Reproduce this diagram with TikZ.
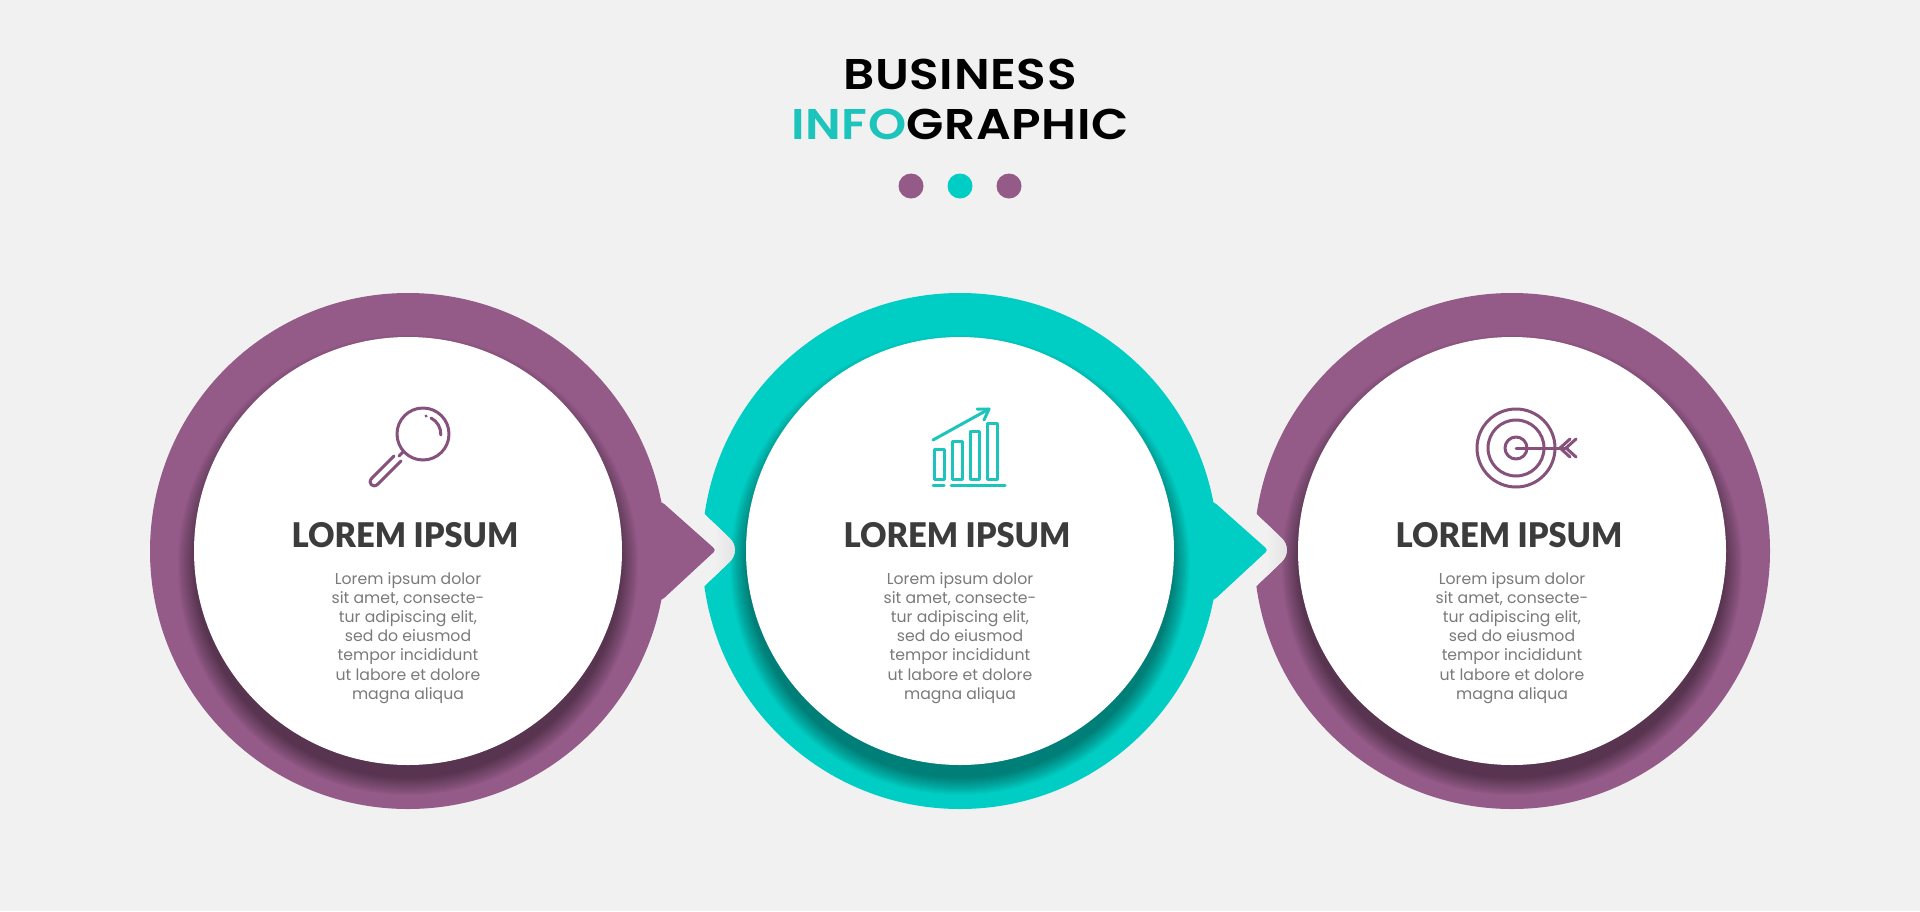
\documentclass[tikz,border=0pt]{standalone}
\usepackage{fontspec}
\setmainfont{Poppins}
\newfontfamily\headfont{Poppins}[BoldFont={Poppins SemiBold},BoldFeatures={FakeStretch=1.13,LetterSpace=1.5}]
\newfontfamily\cardfont{Lato}[BoldFont={Lato Black},BoldFeatures={FakeStretch=0.96}]
\definecolor{bgc}{HTML}{F1F1F1}
\definecolor{plum}{HTML}{945A88}
\definecolor{plumline}{HTML}{86517B}
\definecolor{teal}{HTML}{00CEC4}
\definecolor{tealline}{HTML}{1CC4BC}
\definecolor{darktext}{HTML}{3C3C3C}
\definecolor{greytext}{HTML}{7A7A7A}
\definecolor{notchc}{HTML}{E4E4E4}
\tikzset{
  x=1pt,y=-1pt,
  headline/.style={font=\headfont\bfseries\fontsize{43}{43}\selectfont,inner sep=0pt,anchor=base},
  cardtitle/.style={font=\cardfont\bfseries\fontsize{34}{34}\selectfont,text=darktext,inner sep=0pt,anchor=base},
  cardbody/.style={font=\fontsize{15.7}{19.2}\selectfont,text=greytext,inner sep=0pt,align=center,anchor=north},
  dotmark/.style={circle,inner sep=0pt,minimum size=25pt},
  icon/.style={line width=3pt,line cap=round,line join=round},
}
\newcommand{\ringcard}[5]{%
  % #1 centre x, #2 colour, #3 notch flag, #4 arrow flag, #5 name
  \begin{scope}[shift={(#1,551)}]
    \fill[#2] (0,0) circle[radius=258pt];
    \ifnum#4=1
      \fill[#2,rounded corners=3pt] (250,-49) -- (254,-49) -- (308,-1) -- (254,49) -- (250,49) -- cycle;
    \fi
    \begin{scope}
      \clip (0,0) circle[radius=258pt];
      \foreach \r in {213,214,...,230}{
        \fill[black,opacity=0.022] (0,14) circle[radius=\r pt];
      }
    \end{scope}
    \ifnum#3=1
      \begin{scope}
        \clip[rounded corners=17pt] (-268,-49) -- (-218,-1) -- (-268,47) -- cycle;
        \fill[bgc] (-270,-55) rectangle (-210,55);
        \shade[left color=bgc,right color=notchc] (-246,-55) rectangle (-226,55);
        \fill[notchc] (-226,-55) rectangle (-210,55);
      \end{scope}
    \fi
    \fill[white] (0,0) circle[radius=214pt];
    \node[cardtitle] (#5title) at (-3,-4) {LOREM IPSUM};
    \node[cardbody] (#5body) at (0,21) {Lorem ipsum dolor\\sit amet, consecte-\\tur adipiscing elit,\\sed do eiusmod\\tempor incididunt\\ut labore et dolore\\magna aliqua};
  \end{scope}
}
\begin{document}
\begin{tikzpicture}
\useasboundingbox (0,0) rectangle (1920,911);
\fill[bgc] (0,0) rectangle (1920,911);
\node[headline] (t1) at (960,89) {BUSINESS};
\node[headline] (t2) at (960,139) {\textcolor{tealline}{INFO}GRAPHIC};
\node[dotmark,fill=plum] (d1) at (911,186) {};
\node[dotmark,fill=teal] (d2) at (960,186) {};
\node[dotmark,fill=plum] (d3) at (1009,186) {};

\ringcard{1512}{plum}{1}{0}{c}
\ringcard{960}{teal}{1}{1}{b}
\ringcard{408}{plum}{0}{1}{a}

% magnifier
\begin{scope}[icon,draw=plumline]
  \draw (423,434) circle[radius=26pt];
  \draw (431,418) arc[start angle=63,end angle=-3,radius=18pt];
  \draw (426,416) -- (426.2,416.1);
  \draw (403,452) -- (399,456);
  \draw (394,456) -- (372,478) .. controls (367,483) and (373,489) .. (378,484) -- (401,461);
\end{scope}
% chart
\begin{scope}[icon,draw=tealline]
  \draw (934,449) rectangle (944,479);
  \draw (952,441) rectangle (962,479);
  \draw (970,431) rectangle (979,479);
  \draw (987,423) rectangle (997,479);
  \draw (933,485) -- (944,485);
  \draw (951,485) -- (1005,485);
  \draw (933,440) -- (989,409);
  \draw (977,409) -- (989,409) -- (984,420);
\end{scope}
% target
\begin{scope}[icon,draw=plumline]
  \draw (1516,448) circle[radius=39pt];
  \draw (1516,448) circle[radius=28pt];
  \draw (1516,448) circle[radius=11pt];
  \draw (1516,448) -- (1567,448);
  \draw (1570,439) -- (1560,448) -- (1570,457);
  \draw (1576,439) -- (1566,448) -- (1576,457);
\end{scope}
\end{tikzpicture}
\end{document}
